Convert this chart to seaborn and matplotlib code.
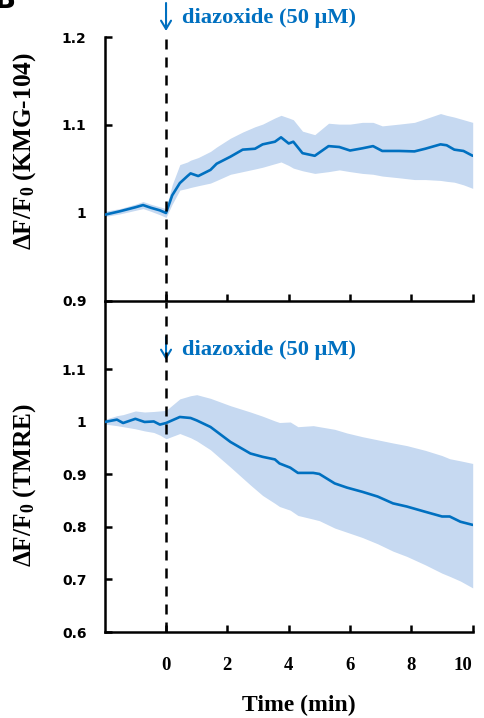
import matplotlib
matplotlib.use("Agg")
import matplotlib.pyplot as plt
import matplotlib.transforms as mtransforms
import seaborn as sns
import numpy as np
import pandas as pd

# ---------------- data ----------------
top_time = [-2, -1.5, -1, -0.75, -0.5, -0.2, 0, 0.2, 0.45, 0.7, 0.8, 1.05, 1.45, 1.65,
            2.1, 2.5, 2.9, 3.15, 3.55, 3.75, 4.0, 4.15, 4.45, 4.85, 5.3, 5.65, 6.0, 6.4,
            6.75, 7.05, 7.6, 8.1, 8.45, 8.95, 9.15, 9.4, 9.7, 10.0]
top_mean = [0.998, 1.002, 1.0065, 1.009, 1.006, 1.003, 1.000, 1.020, 1.034, 1.042, 1.045,
            1.042, 1.049, 1.056, 1.064, 1.072, 1.073, 1.078, 1.081, 1.086, 1.079, 1.081,
            1.068, 1.065, 1.076, 1.075, 1.071, 1.0735, 1.076, 1.0705, 1.0705, 1.070, 1.073,
            1.078, 1.077, 1.072, 1.0705, 1.065]
top_hi = [1.002, 1.005, 1.010, 1.013, 1.010, 1.007, 1.005, 1.032, 1.055, 1.058, 1.060,
          1.063, 1.070, 1.075, 1.085, 1.092, 1.098, 1.101, 1.108, 1.111, 1.108, 1.106,
          1.093, 1.089, 1.102, 1.101, 1.101, 1.103, 1.103, 1.099, 1.101, 1.103, 1.107,
          1.113, 1.111, 1.109, 1.106, 1.103]
top_lo = [0.996, 0.999, 1.003, 1.005, 1.002, 0.998, 0.995, 1.010, 1.026, 1.028, 1.029,
          1.031, 1.034, 1.037, 1.044, 1.047, 1.050, 1.052, 1.056, 1.058, 1.054, 1.051,
          1.048, 1.045, 1.047, 1.049, 1.047, 1.045, 1.044, 1.042, 1.040, 1.038, 1.038,
          1.037, 1.036, 1.035, 1.032, 1.028]

bot_time = [-2, -1.6, -1.4, -1.0, -0.7, -0.4, -0.2, 0, 0.45, 0.8, 1.0, 1.45, 2.1, 2.75,
            3.15, 3.55, 3.7, 4.05, 4.3, 4.8, 5.0, 5.5, 5.9, 6.4, 6.9, 7.4, 7.85, 8.45,
            9.0, 9.25, 9.6, 10.0]
bot_mean = [1.000, 1.0045, 0.998, 1.006, 1.000, 1.001, 0.995, 0.998, 1.0095, 1.0076,
            1.003, 0.9905, 0.962, 0.940, 0.9336, 0.9287, 0.921, 0.913, 0.903, 0.903,
            0.901, 0.883, 0.875, 0.867, 0.858, 0.845, 0.839, 0.829, 0.820, 0.820, 0.810,
            0.804]
bot_hi = [1.005, 1.012, 1.014, 1.021, 1.019, 1.020, 1.021, 1.022, 1.044, 1.050, 1.052,
          1.045, 1.031, 1.019, 1.011, 1.002, 0.999, 1.000, 0.991, 0.993, 0.991, 0.986,
          0.979, 0.972, 0.966, 0.960, 0.955, 0.946, 0.936, 0.930, 0.926, 0.921]
bot_lo = [0.996, 0.993, 0.991, 0.987, 0.983, 0.980, 0.975, 0.968, 0.978, 0.970, 0.964,
          0.947, 0.914, 0.880, 0.860, 0.845, 0.839, 0.832, 0.822, 0.815, 0.812, 0.798,
          0.790, 0.780, 0.768, 0.754, 0.744, 0.728, 0.712, 0.706, 0.697, 0.684]

x_ticks = [0, 2, 4, 6, 8, 10]
x_ticklabels = ["0", "2", "4", "6", "8", "10"]
top_yticks = [0.9, 1.0, 1.1, 1.2]
top_yticklabels = ["0.9", "1", "1.1", "1.2"]
bot_yticks = [0.6, 0.7, 0.8, 0.9, 1.0, 1.1]
bot_yticklabels = ["0.6", "0.7", "0.8", "0.9", "1", "1.1"]

top_ylabel = r"$\mathbf{\Delta}$F/F$_\mathbf{0}$ (KMG-104)"
bot_ylabel = r"$\mathbf{\Delta}$F/F$_\mathbf{0}$ (TMRE)"
x_label = "Time (min)"
stim_label = "diazoxide (50 \u03bcM)"

# ---------------- style ----------------
sns.set_theme(style="white")
plt.rcParams["font.family"] = ["Liberation Serif", "DejaVu Serif"]
plt.rcParams["mathtext.fontset"] = "custom"
plt.rcParams["mathtext.rm"] = "Liberation Serif:bold"
plt.rcParams["mathtext.bf"] = "Liberation Serif:bold"
plt.rcParams["mathtext.it"] = "Liberation Serif:bold"

LINE = "#0070C0"
BAND = "#C6D9F1"
SERIF = "Liberation Serif"

fig = plt.figure(figsize=(4.84, 7.18), dpi=100)
ax1 = fig.add_axes([104.7 / 484, (718 - 301) / 718, 368 / 484, 264 / 718])
ax2 = fig.add_axes([104.7 / 484, (718 - 632) / 718, 368 / 484, 330 / 718])

panels = [
    (ax1, top_time, top_mean, top_lo, top_hi, (0.9, 1.2), top_yticks, top_yticklabels, top_ylabel),
    (ax2, bot_time, bot_mean, bot_lo, bot_hi, (0.6, 1.2285), bot_yticks, bot_yticklabels, bot_ylabel),
]

for ax, t, m, lo, hi, ylim, yt, ytl, ylab in panels:
    df = pd.DataFrame({"t": t, "m": m})
    ax.fill_between(t, lo, hi, color=BAND, lw=0, zorder=1)
    sns.lineplot(data=df, x="t", y="m", ax=ax, color=LINE, lw=1.9, zorder=3)
    ax.axvline(0, color="black", lw=1.8, ls=(0, (4, 3.2)), zorder=4)
    ax.set_xlim(-2, 10)
    ax.set_ylim(*ylim)
    ax.set_yticks(yt)
    ax.set_yticklabels(ytl)
    ax.set_xticks(x_ticks)
    for s in ["top", "right"]:
        ax.spines[s].set_visible(False)
    for s in ["left", "bottom"]:
        ax.spines[s].set_visible(True)
        ax.spines[s].set_color("black")
        ax.spines[s].set_linewidth(1.8)
    ax.tick_params(axis="both", direction="in", length=5, width=1.8, color="black",
                   left=True, bottom=True)
    ax.tick_params(axis="y", pad=13)
    for lab in ax.get_yticklabels():
        lab.set_fontfamily("DejaVu Sans")
        lab.set_fontweight("bold")
        lab.set_fontsize(10)
        lab.set_color("black")
    ax.set_ylabel(ylab, fontsize=18.3, fontweight="bold", color="black")
    ax.set_xlabel("")
    ax.grid(False)
    ax.set_facecolor("none")

    # stimulus arrow + label
    trans = mtransforms.blended_transform_factory(ax.transData, ax.transAxes)
    y_top = (301 - 3) / 264 if ax is ax1 else (632 - 337) / 330
    y_bot = (301 - 31) / 264 if ax is ax1 else (632 - 360) / 330
    y_txt = (301 - 18) / 264 if ax is ax1 else (632 - 350) / 330
    ax.annotate("", xy=(0, y_bot), xytext=(0, y_top), xycoords=trans, textcoords=trans,
                arrowprops=dict(arrowstyle="->,head_length=0.5,head_width=0.3",
                                color=LINE, lw=1.5, shrinkA=0, shrinkB=0),
                annotation_clip=False)
    ax.text(0.52, y_txt, stim_label, transform=trans, color=LINE, fontsize=16.2,
            fontweight="bold", fontfamily=SERIF, ha="left", va="center", clip_on=False)

ax1.yaxis.set_label_coords((38 - 104.7) / 368, (301 - 151) / 264)
ax2.yaxis.set_label_coords((38 - 104.7) / 368, (632 - 485) / 330)

ax1.set_xticklabels([])
ax2.set_xticklabels(x_ticklabels)
ax2.tick_params(axis="x", pad=18)
xtl = ax2.get_xticklabels()
for lab in xtl:
    lab.set_fontfamily(SERIF)
    lab.set_fontweight("bold")
    lab.set_fontsize(13.5)
    lab.set_color("black")
xtl[-1].set_horizontalalignment("right")
ax2.set_xlabel(x_label, fontsize=17, fontweight="bold", fontfamily=SERIF, color="black")
ax2.xaxis.set_label_coords((299 - 104.7) / 368, -(705 - 632) / 330)
ax2.xaxis.label.set_verticalalignment("center")

fig.text(-0.012, 1.0, "B", fontsize=20, fontweight="bold", fontfamily="DejaVu Sans",
         ha="left", va="center", color="black")

fig.savefig("out.png", dpi=100)
